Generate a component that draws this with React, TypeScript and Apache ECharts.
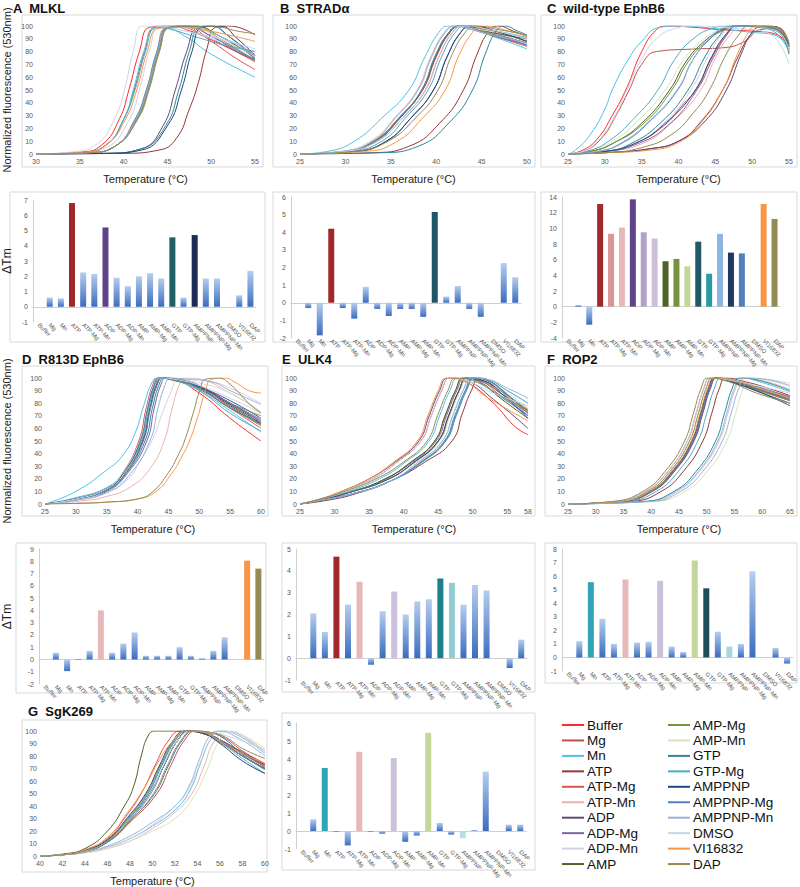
import React, { useEffect, useRef } from 'react';
import * as echarts from 'echarts';

const FONT = 'Arial, "Liberation Sans", Helvetica, sans-serif';

const conditions = ['Buffer', 'Mg', 'Mn', 'ATP', 'ATP-Mg', 'ATP-Mn', 'ADP', 'ADP-Mg', 'ADP-Mn', 'AMP',
  'AMP-Mg', 'AMP-Mn', 'GTP', 'GTP-Mg', 'AMPPNP', 'AMPPNP-Mg', 'AMPPNP-Mn', 'DMSO', 'VI16832', 'DAP'];

const lineColors = ['#ff2a2a', '#c0504d', '#4cc3e0', '#953735', '#d9534f', '#f2aeb0', '#5f497a', '#8064a2',
  '#d6cfe6', '#4f6228', '#77933c', '#d8e4bc', '#31859c', '#4bacc6', '#1f497d', '#4f81bd', '#95b3d7',
  '#c5d5ea', '#f79646', '#948a54'];

// ---------- melting curves: [temperature, normalized fluorescence] ----------
const mlklCurves = [
  [[30,0],[35,1.5],[37.5,7],[39.5,27],[40.6,50],[41.8,80],[43,99],[45,100],[48,95],[51,86],[55,73]],
  [[30,0],[35,1],[38,7],[40,27],[41.2,50],[42.4,80],[43.6,99],[46,100],[49,93],[52,83],[55,72]],
  [[30,0],[35,1],[38,7],[40,27],[41.1,50],[42.3,80],[43.5,98],[44.5,99],[47,92],[50,78],[55,60]],
  [[30,0],[40,0.5],[44,3],[46,12],[47.5,35],[48.5,55],[49.5,82],[50.5,99],[52,100],[55,93]],
  [[30,0],[36,1],[39,6],[41.5,27],[42.8,50],[44,80],[45.3,99],[47,100],[50,88],[53,74],[55,66]],
  [[30,0],[36,1],[39,6],[41.4,27],[42.7,50],[43.9,80],[45.1,99],[48,99],[51,90],[55,78]],
  [[30,0],[38,0.5],[42,4],[44.5,22],[45.9,50],[47.2,80],[48.5,99],[50,100],[52,92],[55,76]],
  [[30,0],[36,1],[39,6],[41.3,27],[42.6,50],[43.8,80],[45,99],[47.5,99],[50,92],[53,80],[55,74]],
  [[30,0],[35,1],[38,5],[40.5,25],[41.8,50],[43,82],[44.2,100],[47,98],[50,90],[55,80]],
  [[30,0],[36,1],[39,6],[41.4,27],[42.7,50],[43.9,80],[45.1,99],[48,100],[51,92],[55,75]],
  [[30,0],[36,1],[39,6],[41.5,27],[42.8,50],[44,80],[45.2,99],[48,100],[51,90],[55,73]],
  [[30,0],[36,1],[39,6],[41.3,27],[42.6,50],[43.8,80],[45,99],[48,98],[51,90],[55,76]],
  [[30,0],[38,0.5],[42,4],[44.8,22],[46.3,50],[47.5,80],[48.7,99],[50,100],[52,92],[55,74]],
  [[30,0],[35,1],[38,7],[40,27],[41.3,50],[42.5,80],[43.7,99],[45,98],[48,92],[51,86],[55,80]],
  [[30,0],[38,0.5],[42,3],[45,22],[46.6,50],[47.8,80],[49,99],[51,100],[53,90],[55,77]],
  [[30,0],[36,1],[39,6],[41.3,27],[42.6,50],[43.8,80],[45,99],[47,100],[50,92],[53,81],[55,74]],
  [[30,0],[36,1],[39,6],[41.4,27],[42.7,50],[43.9,80],[45.1,99],[48,99],[51,92],[55,78]],
  [[30,0],[34,1.5],[37,8],[39,28],[40.1,50],[41.1,80],[42.2,100],[44,100],[47,96],[51,90],[55,82]],
  [[30,0],[35,1],[38,7],[40.2,27],[41.5,50],[42.7,80],[43.9,98],[46,99],[49,97],[52,93],[55,88]],
  [[30,0],[36,1],[39,6],[41.6,27],[42.9,50],[44.1,80],[45.3,99],[48,100],[51,99],[53,96],[55,94]],
];

const stradCurves = [
  [[25,0],[30,2],[33.5,10],[36.3,28],[38.8,50],[40.3,76],[41.8,95],[43,100],[46,96],[50,88]],
  [[25,0],[30,2],[33.3,11],[36,29],[38.5,50],[40,76],[41.5,95],[42.7,100],[46,95],[50,86]],
  [[25,0],[28,2],[31,10],[34,28],[37,50],[38.7,75],[40.3,95],[41.3,100],[44,97],[47,90],[50,82]],
  [[25,0],[33,1],[37,6],[40.5,25],[43,50],[44.5,78],[45.8,96],[46.8,100],[48.5,96],[50,92]],
  [[25,0],[30,2],[33.3,11],[36,29],[38.5,50],[40,76],[41.5,95],[42.7,100],[46,93],[50,84]],
  [[25,0],[29.5,2],[33,11],[35.5,29],[37.9,50],[39.4,76],[40.9,95],[42,100],[45,95],[50,86]],
  [[25,0],[31,2],[34.5,10],[37.2,28],[39.7,50],[41.2,76],[42.7,95],[43.8,100],[47,95],[50,88]],
  [[25,0],[30,2],[33.3,10],[36,28],[38.4,50],[39.9,76],[41.4,95],[42.6,100],[46,94],[50,85]],
  [[25,0],[29.5,2],[33,11],[35.6,29],[38,50],[39.5,76],[41,95],[42.1,100],[45,96],[50,89]],
  [[25,0],[30,2],[33.3,10],[36,28],[38.45,50],[40,77],[41.5,95],[42.6,100],[46,95],[50,90]],
  [[25,0],[30,2],[33.2,10],[35.9,28],[38.4,50],[39.9,77],[41.4,95],[42.5,100],[46,94],[50,87]],
  [[25,0],[29.5,2],[33,11],[35.5,29],[38,50],[39.5,76],[41,95],[42.2,100],[45,97],[50,91]],
  [[25,0],[34,1],[38,6],[41.5,25],[44,50],[45.4,78],[46.6,96],[47.5,100],[49,96],[50,93]],
  [[25,0],[30.5,2],[34,10],[36.6,28],[39.1,50],[40.6,76],[42.1,95],[43.2,100],[46,97],[50,91]],
  [[25,0],[31,2],[34.5,10],[37.2,28],[39.7,50],[41.2,76],[42.7,95],[43.8,100],[47,95],[50,88]],
  [[25,0],[30,2],[33.3,10],[35.9,28],[38.4,50],[39.9,76],[41.4,95],[42.5,100],[46,93],[50,85]],
  [[25,0],[29.5,2],[33,10],[35.5,28],[38,50],[39.5,76],[41,95],[42.1,100],[45,95],[50,87]],
  [[25,0],[30,2],[33.5,10],[36.3,28],[38.8,50],[40.3,76],[41.8,95],[43,100],[46,97],[50,90]],
  [[25,0],[32,2],[35.5,9],[38.5,28],[41,50],[42.5,77],[44,95],[45,100],[47.5,97],[50,92]],
  [[25,0],[31,2],[34.7,10],[37.7,28],[40.2,50],[41.7,77],[43.2,95],[44.3,100],[47,97],[50,93]],
];

const ephb6Curves = [
  [[25,0],[27,3],[29,12],[31,30],[33,52],[35,80],[37,97],[38.5,100],[42,99],[46,97],[50,96],[53,94],[55,85]],
  [[25,0],[27,2],[29.5,12],[31.5,30],[33.3,50],[35,70],[37,80],[42,82],[46,83],[49,88],[51,97],[53,98],[55,86]],
  [[25,0],[26,3],[28,15],[30,35],[31,50],[33,72],[35,88],[37.5,99],[40,100],[45,98],[50,95],[53,93],[55,82]],
  [[25,0],[30,1],[36,4],[40,10],[43,25],[46,50],[48,75],[50,95],[51.5,100],[53.5,99],[55,82]],
  [[25,0],[30,2],[34,8],[38,22],[40.5,38],[42.3,50],[44.5,75],[46.5,93],[48,100],[53,98],[55,84]],
  [[25,0],[30,2],[35,8],[39,24],[43,50],[45,75],[47,93],[48.5,100],[53,99],[55,86]],
  [[25,0],[30,1],[36,4],[40,10],[43.5,25],[46.5,50],[48.5,78],[50,95],[51.5,100],[53.5,99],[55,84]],
  [[25,0],[30,2],[34,7],[38.5,22],[42.5,50],[44.7,75],[46.7,94],[48,100],[53,97],[55,82]],
  [[25,0],[30,2],[34,8],[38,24],[41.7,50],[44,76],[46,94],[47.5,100],[53,98],[55,80]],
  [[25,0],[28,2],[31,8],[35,24],[38.8,50],[41,72],[43.5,88],[46,97],[48,100],[53,97],[55,78]],
  [[25,0],[28,2],[31,8],[35.3,24],[39.1,50],[41.3,72],[43.8,88],[46.3,97],[48.3,100],[53,98],[55,80]],
  [[25,0],[28,3],[31,10],[34.5,26],[38.2,50],[40.5,72],[43,88],[45.5,97],[47.5,100],[53,97],[55,82]],
  [[25,0],[30,2],[33.5,8],[37.5,24],[41.3,50],[43.5,75],[45.5,92],[47.3,100],[53,98],[55,85]],
  [[25,0],[27.5,2],[30.5,10],[34,28],[37.2,50],[39.5,74],[42,90],[44.5,98],[46.5,100],[52,98],[55,80]],
  [[25,0],[30,2],[34,8],[38,23],[42.3,50],[44.5,76],[46.5,94],[48,100],[53,99],[55,86]],
  [[25,0],[29,2],[32.5,9],[36,25],[39.9,50],[42,74],[44.5,91],[46.5,99],[48,100],[53,98],[55,84]],
  [[25,0],[29,2],[32.3,9],[35.9,25],[39.8,50],[42,74],[44.3,91],[46.3,99],[48,100],[53,97],[55,80]],
  [[25,0],[27,2],[29,10],[31.2,28],[33,50],[35,74],[37,90],[39.5,98],[42,100],[48,98],[52,95],[55,70]],
  [[25,0],[30,1],[36,3],[40,9],[43,24],[46,50],[48,78],[49.5,95],[50.5,100],[53,99],[55,88]],
  [[25,0],[30,1],[35,5],[39,15],[42,32],[44.2,50],[46.3,76],[48.3,94],[49.5,100],[53.5,99],[55,86]],
];

const r813dCurves = [
  [[25,0],[30,4],[35,12],[37.5,24],[40.2,50],[41.4,76],[42.5,95],[43.3,100],[45.5,99],[50,88],[55,68],[60,50]],
  [[25,0],[30,4],[35,11],[37.8,24],[40.7,50],[41.9,76],[43,95],[43.8,100],[46,99],[50,92],[55,77],[60,62]],
  [[25,0],[30,10],[35,27],[37.5,38],[39.5,55],[41,78],[42.2,95],[43.2,100],[46,98],[50,90],[55,74],[60,57]],
  [[25,0],[30,4],[35,12],[37.6,24],[40.3,50],[41.5,76],[42.6,95],[43.5,100],[46,98],[50,93],[55,80],[60,65]],
  [[25,0],[30,4],[35,11],[38,25],[40.9,50],[42,76],[43.2,95],[44,100],[46,99],[50,91],[55,76],[60,60]],
  [[25,0],[30,2],[35,6],[39,14],[42,28],[44.3,50],[45.6,76],[46.8,95],[47.6,100],[50,99],[55,88],[60,73]],
  [[25,0],[30,4],[35,12],[37.8,24],[40.8,50],[42,76],[43.1,95],[44,100],[46,99],[50,93],[55,82],[60,68]],
  [[25,0],[30,3],[35,10],[38.3,24],[41.5,50],[42.7,76],[43.8,95],[44.6,100],[47,99],[50,94],[55,80],[60,66]],
  [[25,0],[30,3],[35,9],[38.5,20],[40.5,35],[42.5,52],[44,72],[45.5,90],[46.5,99],[48,100],[52,97],[55,92],[60,80]],
  [[25,0],[30,4],[35,12],[37.7,24],[40.6,50],[41.8,76],[42.9,95],[43.7,100],[46,99],[50,93],[55,78],[60,63]],
  [[25,0],[30,4],[35,12],[37.7,24],[40.6,50],[41.8,76],[42.9,95],[43.7,100],[46,98],[50,92],[55,80],[60,70]],
  [[25,0],[30,3],[35,11],[37.8,24],[40.6,50],[41.8,76],[42.9,95],[43.8,100],[46,99],[50,96],[55,88],[60,73]],
  [[25,0],[30,4],[35,11],[38.1,24],[41.2,50],[42.4,76],[43.5,95],[44.3,100],[46.5,99],[50,92],[55,76],[60,64]],
  [[25,0],[30,5],[35,13],[37.7,25],[40.6,50],[41.8,76],[42.9,95],[43.7,100],[46,99],[50,90],[55,72],[60,58]],
  [[25,0],[30,4],[35,12],[37.6,24],[40.4,50],[41.6,76],[42.7,95],[43.5,100],[46,99],[50,93],[55,79],[60,64]],
  [[25,0],[30,4],[35,11],[38,24],[40.9,50],[42.1,76],[43.2,95],[44,100],[46,99],[50,92],[55,80],[60,67]],
  [[25,0],[30,3],[35,9],[38.5,22],[42,50],[43.3,76],[44.5,95],[45.3,100],[48,99],[52,97],[55,90],[60,79]],
  [[25,0],[30,4],[35,12],[37.5,24],[40.3,50],[41.5,76],[42.6,95],[43.5,100],[46,99],[50,94],[55,84],[60,72]],
  [[25,0],[30,0.5],[35,1.5],[40,4],[43,10],[45.5,24],[47,36],[48.4,50],[49.8,70],[51,90],[52,99],[54,100],[56,96],[58,90],[60,88]],
  [[25,0],[30,0.5],[35,1.5],[40,4],[42.5,10],[45,25],[46.5,38],[47.6,50],[49,72],[50.2,92],[51,99],[53,100],[55,95],[58,80],[60,72]],
];

const ulk4Curves = [
  [[25,0],[28,4],[31,10],[35.5,20],[39,33],[42.5,50],[44,70],[45.5,90],[46.7,100],[49,97],[53,80],[56,62],[58,55]],
  [[25,0],[28,3],[32,9],[37,19],[41,33],[44.5,50],[46,70],[47.5,90],[48.7,100],[51,98],[54,88],[58,72]],
  [[25,0],[28,4],[32,10],[36.5,20],[40.2,33],[43.7,50],[45.2,70],[46.7,90],[47.9,100],[50,98],[54,85],[58,70]],
  [[25,0],[29,3],[33,8],[38,18],[43,33],[47,50],[48.5,72],[49.8,90],[51,100],[53,96],[55.5,84],[58,74]],
  [[25,0],[28,3],[32,9],[37.5,19],[41.5,33],[45,50],[46.5,70],[48,90],[49.2,100],[51.5,98],[54,88],[58,74]],
  [[25,0],[28,3],[32.5,8],[38,18],[42.5,33],[46,50],[47.5,70],[49,90],[50.2,100],[52.5,97],[55,86],[58,70]],
  [[25,0],[28,4],[31,10],[35,20],[38.7,33],[42.2,50],[43.7,70],[45.2,90],[46.4,100],[49,98],[53,83],[58,60]],
  [[25,0],[28,3],[32,9],[37,19],[41.2,33],[44.7,50],[46.2,70],[47.7,90],[48.9,100],[51,98],[54,86],[58,70]],
  [[25,0],[28,3],[32.5,8],[38,18],[42,33],[45.6,50],[47.1,70],[48.6,90],[49.8,100],[52,98],[55,88],[58,76]],
  [[25,0],[28,3],[32,9],[37,19],[41,33],[44.5,50],[46,70],[47.5,90],[48.7,100],[51,97],[54,84],[58,68]],
  [[25,0],[28,3],[32,9],[37.5,19],[41.6,33],[45.1,50],[46.6,70],[48.1,90],[49.3,100],[51.5,98],[54.5,88],[58,75]],
  [[25,0],[28,3],[32,9],[37.5,19],[41.7,33],[45.2,50],[46.7,70],[48.2,90],[49.4,100],[51.5,99],[55,90],[58,80]],
  [[25,0],[28,3],[32.5,8],[38,18],[42.6,33],[46.1,50],[47.6,70],[49.1,90],[50.3,100],[52.5,97],[55,87],[58,72]],
  [[25,0],[28,3],[32.5,8],[38,18],[42.5,33],[46,50],[47.5,70],[49,90],[50.2,100],[52.5,98],[55,90],[58,80]],
  [[25,0],[28,3],[32,9],[37.5,19],[41.5,33],[45,50],[46.5,70],[48,90],[49.2,100],[51.5,98],[54.5,86],[58,68]],
  [[25,0],[28,3],[32.5,8],[38,18],[42.4,33],[45.9,50],[47.4,70],[48.9,90],[50.1,100],[52.5,97],[55,85],[58,70]],
  [[25,0],[28,3],[32.5,8],[38,18],[42.1,33],[45.6,50],[47.1,70],[48.6,90],[49.8,100],[52,99],[55,92],[58,84]],
  [[25,0],[28,4],[31,10],[35.5,20],[39,33],[42.5,50],[44,70],[45.5,90],[46.7,100],[49,98],[53,88],[58,78]],
  [[25,0],[28,4],[31,10],[35,20],[38.5,33],[42,50],[43.5,70],[45,90],[46.2,100],[48.5,98],[52,85],[58,66]],
  [[25,0],[28,4],[31.5,10],[36,20],[39.9,33],[43.4,50],[44.9,70],[46.4,90],[47.6,100],[50,98],[54,86],[58,73]],
];

const rop2Curves = [
  [[25,0],[33.5,2],[39,10],[43,26],[46.5,50],[48.1,72],[49.5,92],[50.7,100],[54.5,97],[59,91],[65,82]],
  [[25,0],[34.7,2],[40.2,10],[44.2,26],[47.7,50],[49.3,72],[50.7,92],[51.9,100],[55.5,97],[60,90],[65,84]],
  [[25,0],[39,2],[44.5,10],[48.5,26],[52,50],[53.6,72],[55,92],[56.2,100],[59.5,97],[65,89]],
  [[25,0],[36.3,2],[41.8,10],[45.8,26],[49.3,50],[50.9,72],[52.3,92],[53.5,100],[57,97],[61,92],[65,86]],
  [[25,0],[34.5,2],[40,10],[44,26],[47.5,50],[49.1,72],[50.5,92],[51.7,100],[55,98],[60,92],[65,85]],
  [[25,0],[39.2,2],[44.7,10],[48.7,26],[52.2,50],[53.8,72],[55.2,92],[56.4,100],[60,98],[65,91]],
  [[25,0],[34.6,2],[40.1,10],[44.1,26],[47.6,50],[49.2,72],[50.6,92],[51.8,100],[55,96],[60,88],[65,80]],
  [[25,0],[34.6,2],[40.1,10],[44.1,26],[47.6,50],[49.2,72],[50.6,92],[51.8,100],[55.5,97],[60,91],[65,85]],
  [[25,0],[39.1,2],[44.6,10],[48.6,26],[52.1,50],[53.7,72],[55.1,92],[56.3,100],[60,99],[65,93]],
  [[25,0],[34.3,2],[39.8,10],[43.8,26],[47.3,50],[48.9,72],[50.3,92],[51.5,100],[55,97],[60,90],[65,83]],
  [[25,0],[33.9,2],[39.4,10],[43.4,26],[46.9,50],[48.5,72],[49.9,92],[51.1,100],[54.5,97],[60,89],[65,82]],
  [[25,0],[40.6,2],[46.1,10],[50.1,26],[53.6,50],[55.2,72],[56.6,92],[57.8,100],[61,99],[65,96]],
  [[25,0],[38.6,2],[44.1,10],[48.1,26],[51.6,50],[53.2,72],[54.6,92],[55.8,100],[59.5,98],[65,90]],
  [[25,0],[35.4,2],[40.9,10],[44.9,26],[48.4,50],[50,72],[51.4,92],[52.6,100],[56,97],[60.5,91],[65,84]],
  [[25,0],[34.3,2],[39.8,10],[43.8,26],[47.3,50],[48.9,72],[50.3,92],[51.5,100],[55,96],[60,88],[65,78]],
  [[25,0],[34.5,2],[40,10],[44,26],[47.5,50],[49.1,72],[50.5,92],[51.7,100],[55,97],[60,90],[65,83]],
  [[25,0],[39.8,2],[45.3,10],[49.3,26],[52.8,50],[54.4,72],[55.8,92],[57,100],[60.5,99],[65,94]],
  [[25,0],[33.5,2],[39,10],[43,26],[46.5,50],[48.1,72],[49.5,92],[50.7,100],[54.5,98],[59,94],[65,88]],
  [[25,0],[34.2,2],[39.7,10],[43.7,26],[47.2,50],[48.8,72],[50.2,92],[51.4,100],[55,98],[60,91],[65,84]],
  [[25,0],[33,2],[38.5,10],[42.5,26],[46,50],[47.6,72],[49,92],[50.2,100],[54,97],[59,88],[65,80]],
];

const sgk269Curves = [
  [[40,0],[42,1],[44,4],[46,12],[48,30],[49.8,50],[51,72],[52.2,92],[53.3,100],[54.5,99],[56,93],[58,82],[60,72]],
  [[40,0],[42,1],[44,3.5],[46,11],[48,27],[50.4,50],[51.6,72],[52.8,92],[53.9,100],[55,99],[56.5,94],[58,84],[60,74]],
  [[40,0],[42,1],[44,3],[46,7],[48,14],[50,24],[52,37],[53.3,52],[54.3,75],[55.2,94],[56,100],[57.5,97],[60,82]],
  [[40,0],[42,1],[44,4],[46,12],[48,30],[49.8,50],[51,72],[52.2,92],[53.3,100],[54.5,98],[56,92],[58,80],[60,70]],
  [[40,0],[42,1.2],[44,5],[46,14],[47.5,30],[49,50],[50.2,72],[51.4,92],[52.5,100],[54,99],[56,91],[58,80],[60,70]],
  [[40,0],[42,1],[44,2.5],[46,6],[48,12],[50,22],[52,35],[53.5,50],[54.5,70],[55.5,92],[56.6,100],[58,96],[60,84]],
  [[40,0],[42,1],[44,4],[46,12],[48,30],[49.75,50],[51,72],[52.2,92],[53.3,100],[54.5,99],[56,93],[58,83],[60,73]],
  [[40,0],[42,1],[44,4],[46,12.5],[47.9,30],[49.6,50],[50.8,72],[52,92],[53.1,100],[54.5,99],[56,93],[58,82],[60,71]],
  [[40,0],[42,1],[44,3],[46,7],[48,14],[50,25],[52,40],[53.3,55],[54.3,76],[55.2,94],[56.2,100],[58,95],[60,83]],
  [[40,0],[42,1.5],[44,6],[46,20],[47.5,40],[48.3,55],[49,80],[49.6,96],[50.2,100],[53,100],[54.5,98],[56,92],[58,82],[60,73]],
  [[40,0],[42,1],[44,4.5],[46,13],[47.8,30],[49.5,50],[50.7,72],[51.9,92],[53,100],[54.5,99],[56,92],[58,80],[60,69]],
  [[40,0],[42,1],[44,2.5],[46,6],[48,12],[50,20],[52,30],[53.5,45],[54.8,68],[55.8,90],[56.8,100],[58,97],[60,86]],
  [[40,0],[42,1],[44,4],[46,11],[48,28],[50.2,50],[51.4,72],[52.6,92],[53.7,100],[55,99],[56.5,93],[58,81],[60,70]],
  [[40,0],[42,1],[44,4],[46,12],[47.9,30],[49.6,50],[50.8,72],[52,92],[53.1,100],[54.5,98],[56,91],[58,78],[60,66]],
  [[40,0],[42,1],[44,4.5],[46,13],[47.8,31],[49.4,50],[50.6,72],[51.8,92],[52.9,100],[54.5,98],[56,90],[58,76],[60,66]],
  [[40,0],[42,1],[44,4],[46,12],[48,29],[49.85,50],[51,72],[52.2,92],[53.4,100],[54.5,99],[56,92],[58,80],[60,70]],
  [[40,0],[42,1],[44,3],[46,8],[48,16],[50,27],[52,40],[53.2,55],[54.2,78],[55,95],[55.8,100],[57.5,95],[60,80]],
  [[40,0],[42,1],[44,4],[46,12],[48,30],[49.8,50],[51,73],[52.2,92],[53.5,100],[55,99],[57,95],[60,85]],
  [[40,0],[42,1],[44,5],[46,15],[47.8,35],[49.3,55],[50.5,75],[51.8,92],[53,100],[54.5,99],[56,92],[58,82],[60,74]],
  [[40,0],[42,1],[44,4],[46,12],[48,28],[50.1,50],[51.3,72],[52.5,92],[53.6,100],[55,99],[56.5,95],[58,86],[60,78]],
];

// ---------- ΔTm values (°C), in the order of `conditions` ----------
const mlklDTm = [0, 0.6, 0.55, 6.8, 2.25, 2.15, 5.2, 1.9, 1.35, 2.0, 2.2, 1.85, 4.55, 0.6, 4.7, 1.85, 1.85, 0, 0.75, 2.35];
const stradDTm = [0, -0.3, -1.85, 4.2, -0.3, -0.9, 0.9, -0.35, -0.75, -0.35, -0.35, -0.8, 5.15, 0.35, 0.95, -0.35, -0.8, 0, 2.25, 1.45];
const ephb6DTm = [0, 0.2, -2.3, 13.1, 9.3, 10.1, 13.7, 9.5, 8.7, 5.8, 6.1, 5.15, 8.3, 4.2, 9.3, 6.9, 6.8, 0, 13.1, 11.2];
const r813dDTm = [0, 0.55, -0.95, 0.05, 0.7, 4.0, 0.55, 1.3, 2.2, 0.3, 0.3, 0.3, 1.0, 0.3, 0.1, 0.7, 1.8, 0, 8.05, 7.4];
const ulk4DTm = [0, 2.05, 1.2, 4.65, 2.45, 3.5, -0.3, 2.15, 3.05, 2.0, 2.6, 2.7, 3.65, 3.45, 2.45, 3.35, 3.1, 0, -0.45, 0.85];
const rop2DTm = [0, 1.2, 5.55, 2.85, 1.0, 5.75, 1.1, 1.15, 5.65, 0.8, 0.4, 7.15, 5.1, 1.9, 0.8, 1.0, 6.35, 0, 0.7, -0.45];
const sgk269DTm = [0, 0.65, 3.5, -0.05, -0.8, 4.4, -0.05, -0.15, 4.05, -0.6, -0.25, 5.45, 0.45, -0.2, -0.4, 0.05, 3.3, 0, 0.35, 0.35];

// ---------- styling / layout ----------
const barHighlights: Record<string, string>[] = [
  { ATP: '#a0282c', ADP: '#5e4388', GTP: '#1f5f68', AMPPNP: '#1b2b55' },
  { ATP: '#a0282c', GTP: '#1f5566' },
  { ATP: '#a0282c', 'ATP-Mg': '#d99694', 'ATP-Mn': '#e6b9b8', ADP: '#5e4388', 'ADP-Mg': '#b3a2c7', 'ADP-Mn': '#ccc1da',
    AMP: '#4f6228', 'AMP-Mg': '#77933c', 'AMP-Mn': '#c3d69b', GTP: '#215968', 'GTP-Mg': '#2a9ba3', AMPPNP: '#8eb4e3',
    'AMPPNP-Mg': '#1f3864', 'AMPPNP-Mn': '#4f81bd', VI16832: '#f79646', DAP: '#948a54' },
  { 'ATP-Mn': '#e6b9b8', VI16832: '#f79646', DAP: '#948a54' },
  { ATP: '#a0282c', 'ATP-Mn': '#e6b9b8', 'ADP-Mn': '#ccc1da', GTP: '#1e7f8a', 'GTP-Mg': '#93cdd4' },
  { Mn: '#31a5b5', 'ATP-Mn': '#e6b9b8', 'ADP-Mn': '#ccc1da', 'AMP-Mn': '#c3d69b', GTP: '#1d4e5a', AMPPNP: '#a5d8df' },
  { Mn: '#31a5b5', 'ATP-Mn': '#e6b9b8', 'ADP-Mn': '#ccc1da', 'AMP-Mn': '#c3d69b', AMPPNP: '#b7dee8' },
];

const curvePanels = [
  { title: 'A  MLKL', tx: 13, ty: 2, data: mlklCurves, min: 30, max: 55, step: 5, grid: [31, 26, 224, 128], box: [22, 15, 241, 152], yName: 24 },
  { title: 'B  STRADα', tx: 280, ty: 2, data: stradCurves, min: 25, max: 50, step: 5, grid: [300, 26, 227, 128], box: [273, 15, 262, 152], yName: 0 },
  { title: 'C  wild-type EphB6', tx: 547, ty: 2, data: ephb6Curves, min: 25, max: 55, step: 5, grid: [568, 26, 221, 128], box: [541, 15, 256, 152], yName: 0 },
  { title: 'D  R813D EphB6', tx: 22, ty: 353, data: r813dCurves, min: 25, max: 60, step: 5, grid: [40, 378, 221, 126], box: [22, 366, 246, 150], yName: 33 },
  { title: 'E  ULK4', tx: 282, ty: 353, data: ulk4Curves, min: 25, max: 58, step: 5, grid: [300, 378, 228, 126], box: [282, 366, 253, 150], yName: 0 },
  { title: 'F  ROP2', tx: 547, ty: 353, data: rop2Curves, min: 25, max: 65, step: 5, grid: [568, 378, 222, 126], box: [545, 366, 252, 150], yName: 0 },
  { title: 'G  SgK269', tx: 28, ty: 705, data: sgk269Curves, min: 40, max: 60, step: 2, grid: [40, 731, 225, 128], box: [22, 720, 245, 152], yName: 0 },
];

const barPanels = [
  { values: mlklDTm, min: -1, max: 7, step: 1, grid: [28, 200, 228, 122], box: [10, 192, 255, 150], yName: 20 },
  { values: stradDTm, min: -2, max: 6, step: 1, grid: [291, 197, 230, 141], box: [273, 192, 262, 150], yName: 0 },
  { values: ephb6DTm, min: -4, max: 14, step: 2, grid: [562, 197, 218, 141], box: [541, 192, 256, 150], yName: 0 },
  { values: r813dDTm, min: -2, max: 9, step: 1, grid: [34, 549, 230, 135], box: [16, 543, 250, 150], yName: 26 },
  { values: ulk4DTm, min: -1, max: 5, step: 1, grid: [296, 549, 231, 131], box: [282, 543, 253, 149], yName: 0 },
  { values: rop2DTm, min: -1, max: 8, step: 1, grid: [562, 549, 233, 122], box: [545, 543, 252, 140], yName: 0 },
  { values: sgk269DTm, min: -1, max: 6, step: 1, grid: [296, 723, 230, 126], box: [282, 713, 253, 157], yName: 0 },
];

function buildOption() {
  const grid: any[] = [];
  const xAxis: any[] = [];
  const yAxis: any[] = [];
  const series: any[] = [];
  const graphic: any[] = [];
  const tickLabel = { fontSize: 7, color: '#595959', fontFamily: FONT };

  curvePanels.forEach((p, k) => {
    grid.push({ left: p.grid[0], top: p.grid[1], width: p.grid[2], height: p.grid[3] });
    xAxis.push({
      type: 'value', gridIndex: k, min: p.min, max: p.max, interval: p.step,
      name: 'Temperature (°C)', nameLocation: 'middle', nameGap: 19,
      nameTextStyle: { fontSize: 11, color: '#222', fontFamily: FONT },
      axisLine: { show: false }, axisTick: { show: false }, splitLine: { show: false },
      axisLabel: { ...tickLabel, margin: 4 },
    });
    yAxis.push({
      type: 'value', gridIndex: k, min: 0, max: 100, interval: 10,
      name: p.yName ? 'Normalized fluorescence (530nm)' : '', nameLocation: 'middle', nameGap: p.yName,
      nameTextStyle: { fontSize: 11, color: '#222', fontFamily: FONT },
      axisLine: { show: false }, axisTick: { show: false }, splitLine: { show: false },
      axisLabel: { ...tickLabel, margin: 3 },
    });
    p.data.forEach((curve, i) => {
      series.push({
        type: 'line', name: conditions[i], xAxisIndex: k, yAxisIndex: k, data: curve,
        showSymbol: false, smooth: 0.5, silent: true, clip: true,
        lineStyle: { width: 1, color: lineColors[i] }, color: lineColors[i],
      });
    });
    graphic.push({ type: 'rect', shape: { x: p.box[0], y: p.box[1], width: p.box[2], height: p.box[3] },
      style: { fill: 'none', stroke: '#d9d9d9', lineWidth: 1 }, silent: true });
    graphic.push({ type: 'text', x: p.tx, y: p.ty,
      style: { text: p.title, fontSize: 13, fontWeight: 'bold', fill: '#111', fontFamily: FONT } });
  });

  const gradient = new echarts.graphic.LinearGradient(0, 0, 0, 1, [
    { offset: 0, color: '#b6cdee' }, { offset: 1, color: '#3a6dbf' },
  ]);

  barPanels.forEach((p, j) => {
    const k = curvePanels.length + j;
    grid.push({ left: p.grid[0], top: p.grid[1], width: p.grid[2], height: p.grid[3] });
    xAxis.push({
      type: 'category', gridIndex: k, data: conditions,
      axisLine: { show: true, onZero: true, lineStyle: { color: '#cfcfcf' } },
      axisTick: { show: false },
      axisLabel: { interval: 0, rotate: -45, fontSize: 6, color: '#595959', fontFamily: FONT, margin: 2 },
    });
    yAxis.push({
      type: 'value', gridIndex: k, min: p.min, max: p.max, interval: p.step,
      name: p.yName ? 'ΔTm' : '', nameLocation: 'middle', nameGap: p.yName,
      nameTextStyle: { fontSize: 12, color: '#222', fontFamily: FONT },
      axisLine: { show: true, lineStyle: { color: '#cfcfcf' } }, axisTick: { show: false },
      splitLine: { show: false }, axisLabel: { ...tickLabel, margin: 5 },
    });
    const hl = barHighlights[j];
    series.push({
      type: 'bar', xAxisIndex: k, yAxisIndex: k, barWidth: 6, silent: true,
      data: p.values.map((v, i) => ({ value: v, itemStyle: { color: hl[conditions[i]] || gradient } })),
    });
    graphic.push({ type: 'rect', shape: { x: p.box[0], y: p.box[1], width: p.box[2], height: p.box[3] },
      style: { fill: 'none', stroke: '#d9d9d9', lineWidth: 1 }, silent: true });
  });

  // legend drawn as two columns of line swatches
  conditions.forEach((name, i) => {
    const col = i < 10 ? 0 : 1;
    const row = i % 10;
    const x0 = col === 0 ? 562 : 668;
    const y = 725 + row * 15.45;
    graphic.push({ type: 'line', shape: { x1: x0, y1: y, x2: x0 + 22, y2: y },
      style: { stroke: lineColors[i], lineWidth: 2 }, silent: true });
    graphic.push({ type: 'text', x: x0 + 25, y,
      style: { text: name, fontSize: 13.5, fill: '#111', fontFamily: FONT, textVerticalAlign: 'middle' } });
  });

  return {
    animation: false,
    backgroundColor: '#fff',
    textStyle: { fontFamily: FONT },
    grid, xAxis, yAxis, series, graphic,
  };
}

export default function App() {
  const ref = useRef<HTMLDivElement>(null);
  useEffect(() => {
    const chart = echarts.init(ref.current!, null, { renderer: 'svg' });
    chart.setOption(buildOption() as any);
    return () => chart.dispose();
  }, []);
  return <div ref={ref} style={{ position: 'absolute', left: 0, top: 0, width: 800, height: 887, background: '#fff' }} />;
}
